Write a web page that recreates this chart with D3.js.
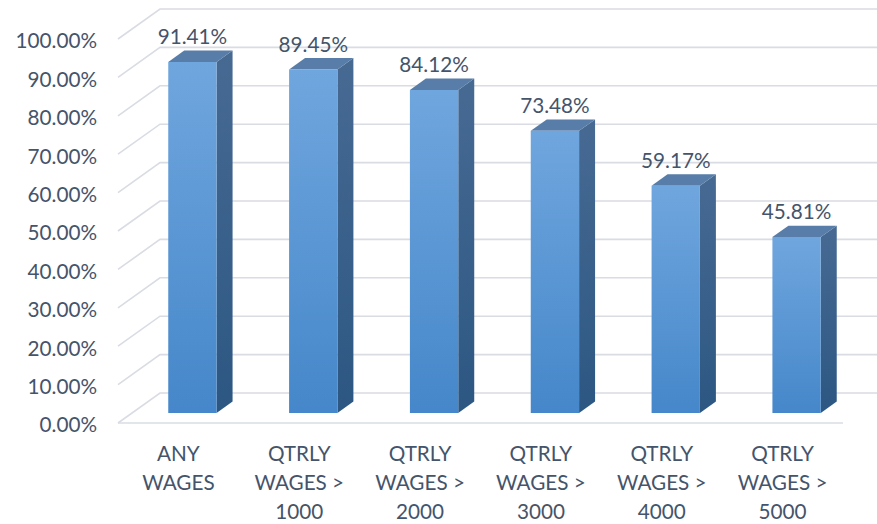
<!DOCTYPE html>
<html>
<head>
<meta charset="utf-8">
<script src="https://cdn.jsdelivr.net/npm/d3@7/dist/d3.min.js"></script>
<style>
  html, body { margin: 0; padding: 0; background: #fff; }
  svg { display: block; }
  text { font-family: Lato, "Open Sans", sans-serif; fill: #44546A; }
</style>
</head>
<body>
<svg id="chart" width="877" height="524"></svg>
<script>
// ---- data ----
const categories = ["ANY WAGES", "QTRLY WAGES > 1000", "QTRLY WAGES > 2000", "QTRLY WAGES > 3000", "QTRLY WAGES > 4000", "QTRLY WAGES > 5000"];
const categoryLines = [["ANY", "WAGES"], ["QTRLY", "WAGES >", "1000"], ["QTRLY", "WAGES >", "2000"], ["QTRLY", "WAGES >", "3000"], ["QTRLY", "WAGES >", "4000"], ["QTRLY", "WAGES >", "5000"]];
const values = [91.41, 89.45, 84.12, 73.48, 59.17, 45.81];
const yTicks = [0, 10, 20, 30, 40, 50, 60, 70, 80, 90, 100];

// ---- layout ----
const svg = d3.select("#chart");
const W = 877, H = 524;
const FS = 20.7;
const DX = 42, DY = -30;          // depth offset (front -> back wall)
const T0 = 1 / 3, T1 = 0.714;      // bar depth positions

const x = d3.scaleBand().domain(categories).range([118, 843]).paddingInner(0.6).paddingOuter(0.3);
const y = d3.scaleLinear().domain([0, 100]).range([423, 39]);

const P = (px, v, t) => [px + DX * t, y(v) + DY * t];

// gradients
const defs = svg.append("defs");
const gFront = defs.append("linearGradient").attr("id", "gFront").attr("x1", 0).attr("y1", 0).attr("x2", 0).attr("y2", 1);
gFront.append("stop").attr("offset", "0%").attr("stop-color", "#70A6DE");
gFront.append("stop").attr("offset", "100%").attr("stop-color", "#4587CA");
const gSide = defs.append("linearGradient").attr("id", "gSide").attr("x1", 0).attr("y1", 0).attr("x2", 0).attr("y2", 1);
gSide.append("stop").attr("offset", "0%").attr("stop-color", "#476A93");
gSide.append("stop").attr("offset", "100%").attr("stop-color", "#2C5782");

// gridlines (side wall + back wall)
const grid = svg.append("g").attr("fill", "none").attr("stroke", "#D9DCE3").attr("stroke-width", 1.6);
yTicks.forEach(t => {
  const a = P(118, t, 0), b = P(118, t, 1);
  grid.append("path").attr("d", `M${a[0]},${a[1]}L${b[0]},${b[1]}L${W + 10},${b[1]}`);
});
// floor front edge
grid.append("line").attr("x1", 118).attr("x2", 843).attr("y1", y(0)).attr("y2", y(0));

// y axis labels
const yAxis = d3.axisLeft(y).tickValues(yTicks).tickSize(0).tickPadding(21).tickFormat(d => d.toFixed(2) + "%");
const ay = svg.append("g").attr("transform", "translate(118,1.5)").call(yAxis);
ay.select(".domain").remove();
ay.selectAll("text").attr("font-size", FS).attr("font-family", "Lato, sans-serif").attr("fill", "#44546A").attr("dy", "0.36em");

// bars
const bars = svg.append("g");
categories.forEach((c, i) => {
  const v = values[i];
  const x0 = x(c), x1 = x(c) + x.bandwidth();
  const f0 = P(x0, 0, T0), f1 = P(x1, 0, T0), f2 = P(x1, v, T0), f3 = P(x0, v, T0);
  const b1 = P(x1, 0, T1), b2 = P(x1, v, T1), b3 = P(x0, v, T1);
  const poly = pts => "M" + pts.map(p => p.join(",")).join("L") + "Z";
  bars.append("path").attr("d", poly([f1, b1, b2, f2])).attr("fill", "url(#gSide)");
  bars.append("path").attr("d", poly([f3, f2, b2, b3])).attr("fill", "#577DA8");
  bars.append("path").attr("d", poly([f0, f1, f2, f3])).attr("fill", "url(#gFront)");
  // data label
  svg.append("text")
    .attr("x", (f0[0] + f1[0]) / 2)
    .attr("y", f3[1] - 18)
    .attr("text-anchor", "middle")
    .attr("font-size", FS)
    .text(v.toFixed(2) + "%");
});

// category labels
categories.forEach((c, i) => {
  const cx = x(c) + x.bandwidth() / 2;
  const t = svg.append("text").attr("text-anchor", "middle").attr("font-size", FS);
  categoryLines[i].forEach((ln, k) => {
    t.append("tspan").attr("x", cx).attr("y", 461 + k * 29).text(ln);
  });
});
</script>
</body>
</html>
